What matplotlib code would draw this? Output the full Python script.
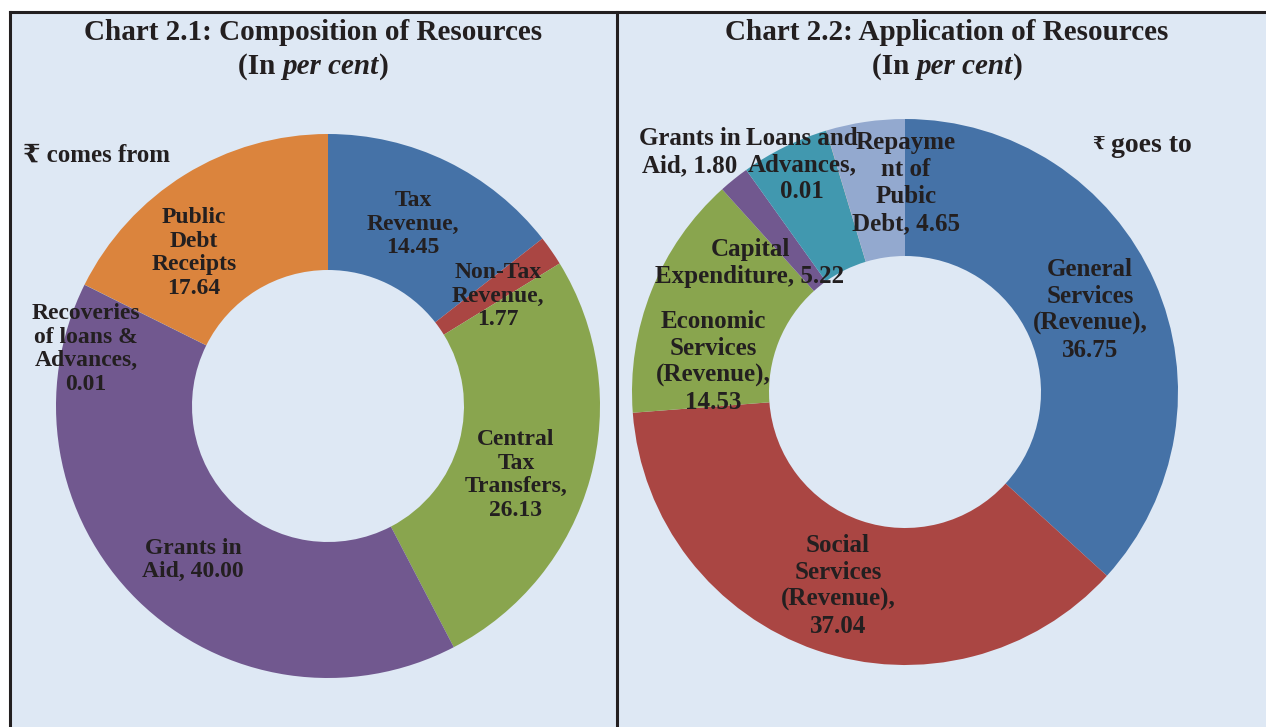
import matplotlib.pyplot as plt
from matplotlib.patches import Rectangle

# Chart 2.1: where the rupee comes from
src_labels = ['Tax\nRevenue,\n14.45', 'Non-Tax\nRevenue,\n1.77', 'Central\nTax\nTransfers,\n26.13',
              'Grants in\nAid, 40.00', 'Recoveries\nof loans &\nAdvances,\n0.01', 'Public\nDebt\nReceipts\n17.64']
src_values = [14.45, 1.77, 26.13, 40.00, 0.01, 17.64]

# Chart 2.2: where the rupee goes to
app_labels = ['General\nServices\n(Revenue),\n36.75', 'Social\nServices\n(Revenue),\n37.04',
              'Economic\nServices\n(Revenue),\n14.53', 'Grants in\nAid, 1.80', 'Capital\nExpenditure, 5.22',
              'Loans and\nAdvances,\n0.01', 'Repayme\nnt of\nPubic\nDebt, 4.65']
app_values = [36.75, 37.04, 14.53, 1.80, 5.22, 0.01, 4.65]

# label anchors (pixels from top-left)
src_pos = [(413, 224), (498, 296), (516, 475), (193, 560), (86, 349), (194, 253)]
app_pos = [(1090, 310), (838, 586), (713, 362), (690, 152), (750, 263), (802, 165), (906, 183)]

src_colors = ['#4572A7', '#AA4643', '#89A54E', '#71588F', '#4198AF', '#DB843D']
app_colors = ['#4572A7', '#AA4643', '#89A54E', '#71588F', '#4198AF', '#DB843D', '#93A9CF']

W, H = 1266, 727
BG = '#DEE8F4'
INK = '#231F20'
SERIF = ['Liberation Serif', 'DejaVu Serif', 'DejaVu Sans']

plt.rcParams['font.family'] = SERIF

fig = plt.figure(figsize=(W / 100, H / 100), dpi=100)
ax = fig.add_axes([0, 0, 1, 1])


def py(y):
    return H - y


ax.add_patch(Rectangle((10, 0), W - 10, py(12), facecolor=BG, edgecolor='none', zorder=0))
ax.plot([10, W], [py(12), py(12)], color=INK, lw=2.2, zorder=5)
ax.plot([10, 10], [0, py(12)], color=INK, lw=2.2, zorder=5)
ax.plot([617, 617], [0, py(12)], color=INK, lw=2.2, zorder=5)

ax.pie(src_values, colors=src_colors, startangle=90, counterclock=False,
       center=(328, py(406)), radius=272, frame=True,
       wedgeprops=dict(width=136, linewidth=0))
ax.pie(app_values, colors=app_colors, startangle=90, counterclock=False,
       center=(905, py(392)), radius=273, frame=True,
       wedgeprops=dict(width=137, linewidth=0))

for lab, (x, y) in zip(src_labels, src_pos):
    ax.text(x, py(y), lab, ha='center', va='center', fontsize=17, fontweight='bold',
            color=INK, linespacing=1.15, zorder=6)
for lab, (x, y) in zip(app_labels, app_pos):
    ax.text(x, py(y), lab, ha='center', va='center', fontsize=18, fontweight='bold',
            color=INK, linespacing=1.22, zorder=6)

ax.text(23, py(155), '\u20b9 comes from', ha='left', va='center', fontsize=18,
        fontweight='bold', color=INK)
ax.text(1092, py(145), '\u20b9', ha='left', va='center', fontsize=13,
        fontweight='bold', color=INK)
ax.text(1111, py(145), 'goes to', ha='left', va='center', fontsize=20,
        fontweight='bold', color=INK)

ax.set_xlim(0, W)
ax.set_ylim(0, H)
ax.set_aspect('equal')
ax.axis('off')

# titles, with "per cent" in italics
renderer = fig.canvas.get_renderer()
for cx, title in [(313, 'Chart 2.1: Composition of Resources'), (947, 'Chart 2.2: Application of Resources')]:
    ax.text(cx, py(33), title, ha='center', va='center', fontsize=21, fontweight='bold', color=INK)
    parts = [('(In ', 'normal'), ('per cent', 'italic'), (')', 'normal')]
    objs = [ax.text(0, py(66), s, ha='left', va='center', fontsize=21, fontweight='bold',
                    fontstyle=st, color=INK) for s, st in parts]
    widths = [o.get_window_extent(renderer).width for o in objs]
    x0 = cx - sum(widths) / 2
    for o, w in zip(objs, widths):
        o.set_x(x0)
        x0 += w

fig.savefig('out.png', dpi=100, facecolor='white')
